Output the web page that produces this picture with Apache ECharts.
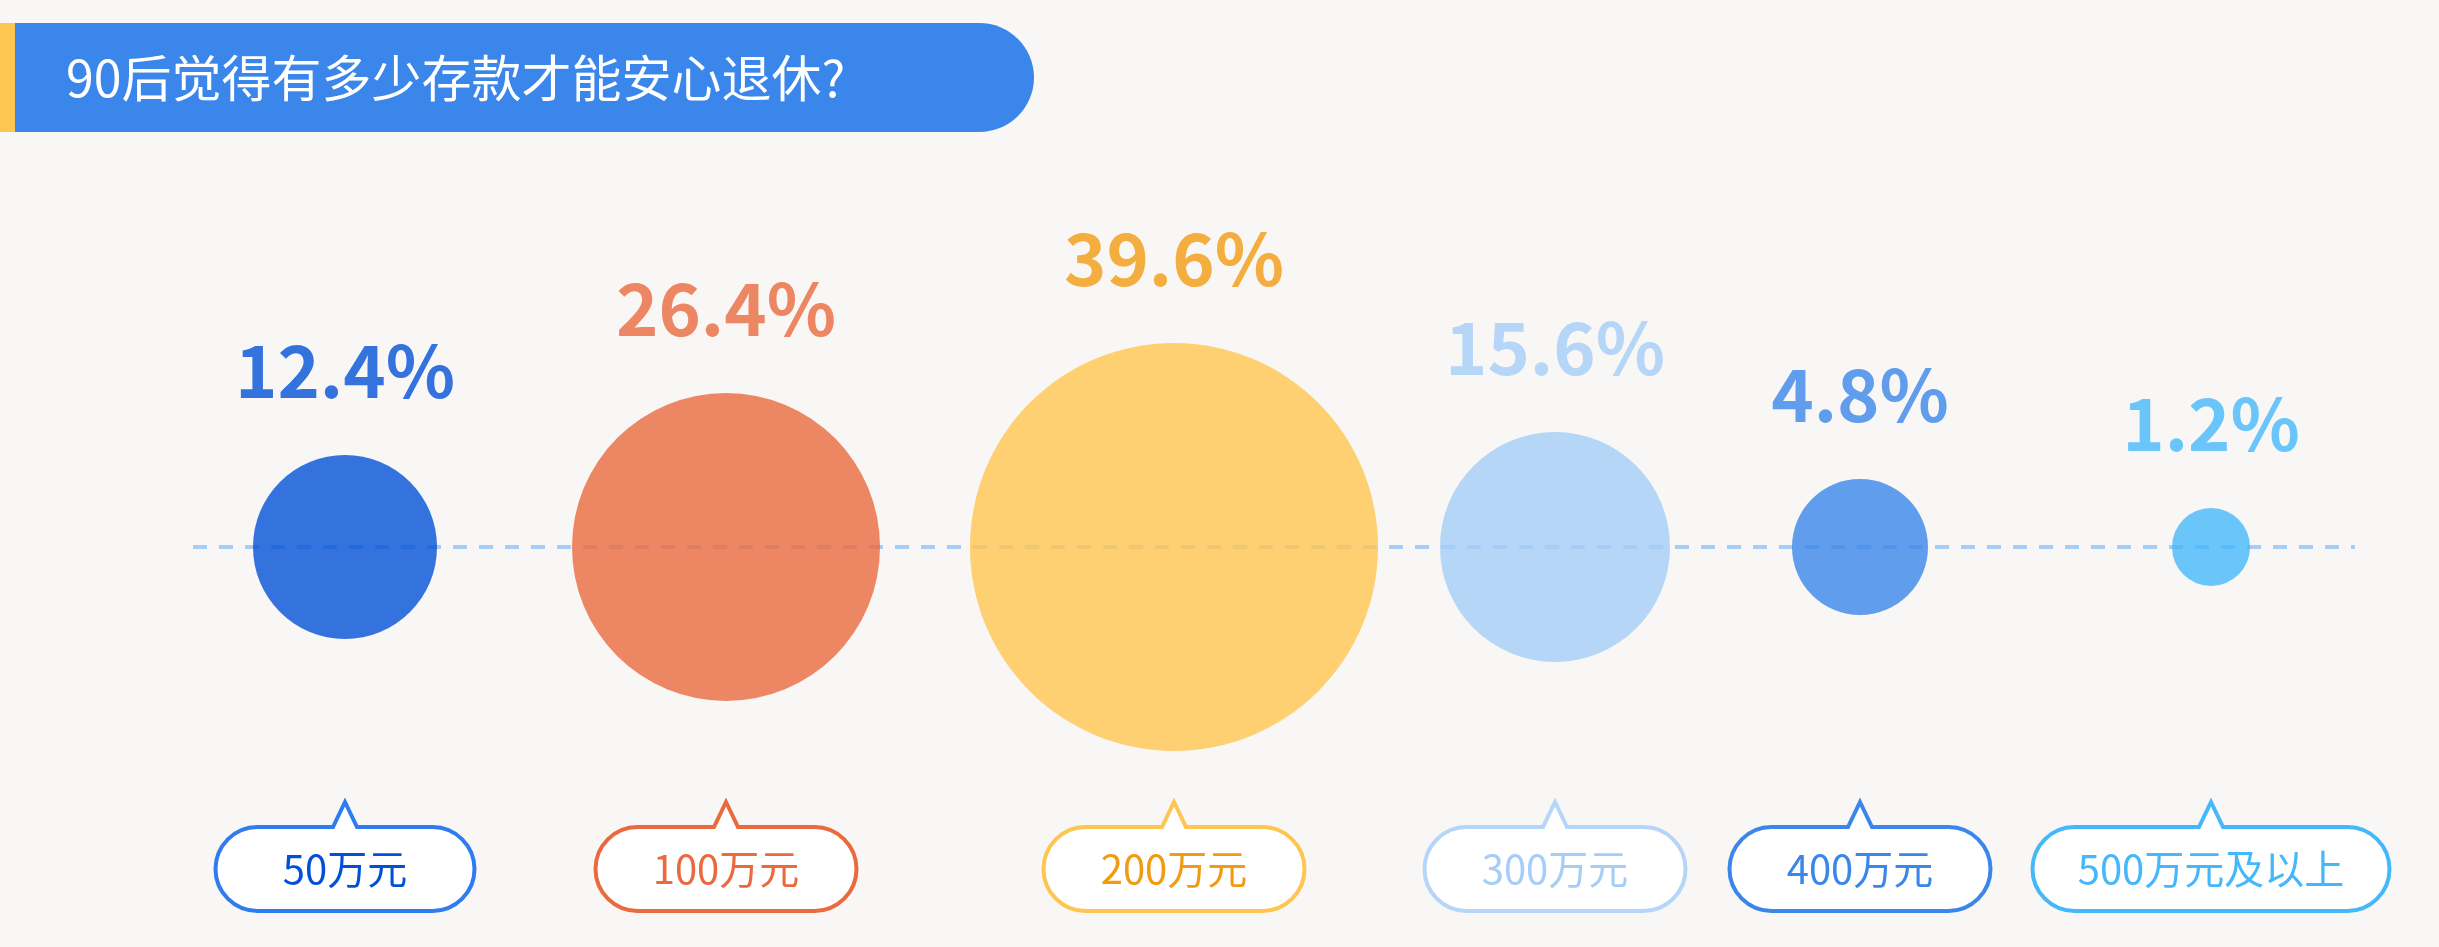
<!DOCTYPE html>
<html><head><meta charset="utf-8">
<script src="https://cdn.jsdelivr.net/npm/echarts@6/dist/echarts.min.js"></script>
<style>html,body{margin:0;background:#f8f7f5}#c{width:2439px;height:947px}</style>
</head><body><div id="c"></div>
<script>
const categories = ['50万元','100万元','200万元','300万元','400万元','500万元及以上'];
const percents = [12.4, 26.4, 39.6, 15.6, 4.8, 1.2];
const titleText = '90后觉得有多少存款才能安心退休?';
// layout (not data)
const xPos = [345, 726, 1174, 1555, 1860, 2211];
const diam = [184, 308, 408, 230, 136, 78];
const bubbleColors = ['#0350d8','#ea6a3e','#ffc551','#a5cdf8','#3a86ea','#45b8fb'];
const textColors = ['#0350d8','#ea6a3e','#f29a12','#a5cdf8','#3a86ea','#45b8fb'];
const borderColors = ['#2e7cf0','#ea6a3e','#ffc551','#b5d6f8','#3a86ea','#45b8fb'];
const boxW = [259, 261, 261, 261, 261, 357];
const axisY = 547, boxY = 869;
const font = '"Noto Sans CJK SC", "Noto Sans", sans-serif';

const chart = echarts.init(document.getElementById('c'));
chart.setOption({
  backgroundColor: '#f8f7f5',
  animation: false,
  grid: {left: 0, right: 0, top: 0, bottom: 0},
  xAxis: {type: 'value', min: 0, max: 2439, show: false},
  yAxis: {type: 'value', min: 0, max: 947, inverse: true, show: false},
  graphic: [
    {type: 'rect', shape: {x: 0, y: 23, width: 1034, height: 109, r: [0, 55, 55, 0]}, style: {fill: '#3a86ea'}},
    {type: 'rect', shape: {x: 0, y: 23, width: 15, height: 109}, style: {fill: '#ffc551'}},
    {type: 'text', x: 66, y: 78, style: {text: titleText, fill: '#fff', font: '50px ' + font, verticalAlign: 'middle'}}
  ],
  series: [
    {type: 'line', data: [[193, axisY], [2355, axisY]], symbol: 'none', z: 1,
     lineStyle: {color: '#a5cdf8', width: 4, type: [14, 12]}},
    {type: 'scatter', z: 3,
     data: percents.map((v, i) => ({value: [xPos[i], axisY], symbolSize: diam[i],
       itemStyle: {color: bubbleColors[i]},
       label: {color: textColors[i]}})),
     label: {show: true, position: 'top', distance: 48, fontSize: 72, fontWeight: 'bold',
       fontFamily: font, formatter: p => percents[p.dataIndex].toFixed(1) + '%'}},
    {type: 'custom', z: 4,
     data: categories.map((c, i) => [xPos[i], boxY, i]),
     renderItem: (params, api) => {
       const i = api.value(2);
       const pt = api.coord([api.value(0), api.value(1)]);
       const w = boxW[i], h = 84, r = h / 2;
       const l = pt[0] - w / 2, t = pt[1] - h / 2, b = pt[1] + h / 2, rr = pt[0] + w / 2;
       const tw = 12, th = 25;
       const d = `M${l + r},${t} L${pt[0] - tw},${t} L${pt[0]},${t - th} L${pt[0] + tw},${t} L${rr - r},${t} ` +
         `A${r},${r} 0 0 1 ${rr - r},${b} L${l + r},${b} A${r},${r} 0 0 1 ${l + r},${t} Z`;
       return {type: 'group', children: [
         {type: 'path', shape: {pathData: d}, style: {fill: '#fff', stroke: borderColors[i], lineWidth: 4}},
         {type: 'text', x: pt[0], y: pt[1], style: {text: categories[i], fill: textColors[i],
           font: '40px ' + font, align: 'center', verticalAlign: 'middle'}}
       ]};
     }}
  ]
});
</script></body></html>
